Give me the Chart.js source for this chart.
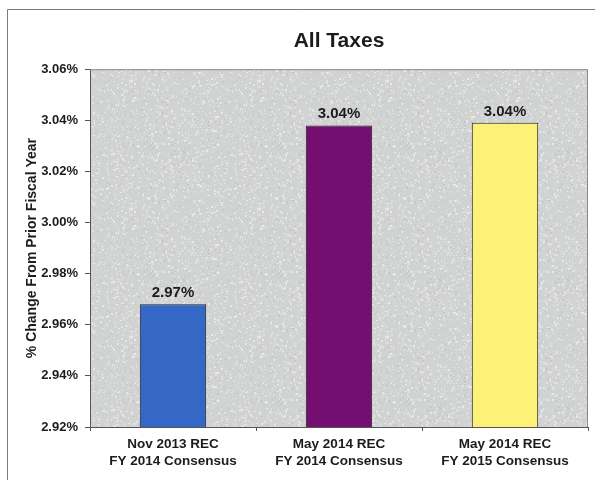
<!DOCTYPE html>
<html>
<head>
<meta charset="utf-8">
<title>All Taxes</title>
<script src="https://cdn.jsdelivr.net/npm/chart.js@4.4.1/dist/chart.umd.min.js"></script>
<style>
  html, body { margin: 0; padding: 0; background: #fff; }
  canvas { display: block; }
</style>
</head>
<body>
<canvas id="mycanvas" width="595" height="491"></canvas>
<script>
// forecasts of growth over prior fiscal year
var labels = [
  ['Nov 2013 REC', 'FY 2014 Consensus'],
  ['May 2014 REC', 'FY 2014 Consensus'],
  ['May 2014 REC', 'FY 2015 Consensus']
];
var growth = [2.968, 3.038, 3.039];
var barColors = ['#3567c6', '#740e71', '#fdf277'];
var yMin = 2.92;
var yMax = 3.06;
var yStep = 0.02;

var fontFamily = '"Liberation Sans", Arial, sans-serif';
var textColor = '#1c1c1c';

// grainy grey fill behind the bars (seeded so it is the same every time)
function grainPattern(ctx) {
  var tile = document.createElement('canvas');
  tile.width = 128;
  tile.height = 128;
  var t = tile.getContext('2d');
  t.fillStyle = '#d1d2d2';
  t.fillRect(0, 0, 128, 128);
  var seed = 12345;
  function rnd() {
    seed = (seed * 1103515245 + 12345) % 2147483648;
    return seed / 2147483648;
  }
  for (var i = 0; i < 1600; i++) {
    var g = rnd() < 0.75 ? 218 + Math.floor(rnd() * 18) : 198 + Math.floor(rnd() * 8);
    t.fillStyle = 'rgb(' + g + ',' + g + ',' + g + ')';
    t.fillRect(Math.floor(rnd() * 128), Math.floor(rnd() * 128), 1 + Math.floor(rnd() * 2), 1 + Math.floor(rnd() * 2));
  }
  return ctx.createPattern(tile, 'repeat');
}

var plotBackground = {
  id: 'plotBackground',
  beforeDraw: function(chart) {
    var ctx = chart.ctx;
    var a = chart.chartArea;
    ctx.save();
    ctx.fillStyle = grainPattern(ctx);
    ctx.fillRect(a.left, a.top, a.right - a.left, a.bottom - a.top);
    // outer frame, top and left edges
    ctx.strokeStyle = '#7a7a7a';
    ctx.lineWidth = 1;
    ctx.beginPath();
    ctx.moveTo(7.5, 480);
    ctx.lineTo(7.5, 9.5);
    ctx.lineTo(595, 9.5);
    ctx.stroke();
    ctx.restore();
  },
  afterDraw: function(chart) {
    var ctx = chart.ctx;
    var a = chart.chartArea;
    ctx.save();
    ctx.strokeStyle = '#8a8a8a';
    ctx.lineWidth = 1;
    ctx.beginPath();
    ctx.moveTo(a.left, a.top + 0.5);
    ctx.lineTo(a.right - 0.5, a.top + 0.5);
    ctx.lineTo(a.right - 0.5, a.bottom);
    ctx.stroke();
    ctx.restore();
  }
};

// value printed above each bar
var barValues = {
  id: 'barValues',
  afterDatasetsDraw: function(chart) {
    var ctx = chart.ctx;
    var meta = chart.getDatasetMeta(0);
    ctx.save();
    ctx.font = 'bold 15px ' + fontFamily;
    ctx.fillStyle = textColor;
    ctx.textAlign = 'center';
    ctx.textBaseline = 'bottom';
    meta.data.forEach(function(bar, i) {
      ctx.fillText(growth[i].toFixed(2) + '%', bar.x, bar.y - 4);
    });
    ctx.restore();
  }
};

var chartdata = {
  labels: labels,
  datasets: [
    {
      label: 'All Taxes',
      data: growth,
      backgroundColor: barColors,
      borderColor: '#222',
      borderWidth: 1,
      categoryPercentage: 1,
      barPercentage: 0.4
    }
  ]
};

var ctx = document.getElementById('mycanvas');

var barGraph = new Chart(ctx, {
  type: 'bar',
  data: chartdata,
  plugins: [plotBackground, barValues],
  options: {
    responsive: false,
    animation: false,
    layout: { padding: { left: 8, right: 7, top: 0, bottom: 0 } },
    plugins: {
      legend: { display: false },
      tooltip: { enabled: false },
      title: {
        display: true,
        text: 'All Taxes',
        fullSize: false,
        color: textColor,
        font: { family: fontFamily, size: 21, weight: 'bold' },
        padding: { top: 29, bottom: 15 }
      }
    },
    scales: {
      x: {
        afterFit: function(s) { s.height = 64; },
        grid: { drawOnChartArea: false, tickLength: 4, color: '#555' },
        border: { color: '#555' },
        ticks: {
          color: textColor,
          padding: 5,
          maxRotation: 0,
          font: { family: fontFamily, size: 13.5, weight: 'bold', lineHeight: 1.26 }
        }
      },
      y: {
        min: yMin,
        max: yMax,
        afterFit: function(s) { s.width = 82; },
        grid: { drawOnChartArea: false, tickLength: 5, color: '#555' },
        border: { color: '#555' },
        ticks: {
          stepSize: yStep,
          color: textColor,
          padding: 7,
          font: { family: fontFamily, size: 13, weight: 'bold' },
          callback: function(v) { return v.toFixed(2) + '%'; }
        },
        title: {
          display: true,
          text: '% Change From Prior Fiscal Year',
          color: textColor,
          padding: { top: 16, bottom: 0 },
          font: { family: fontFamily, size: 14, weight: 'bold' }
        }
      }
    }
  }
});
</script>
</body>
</html>
